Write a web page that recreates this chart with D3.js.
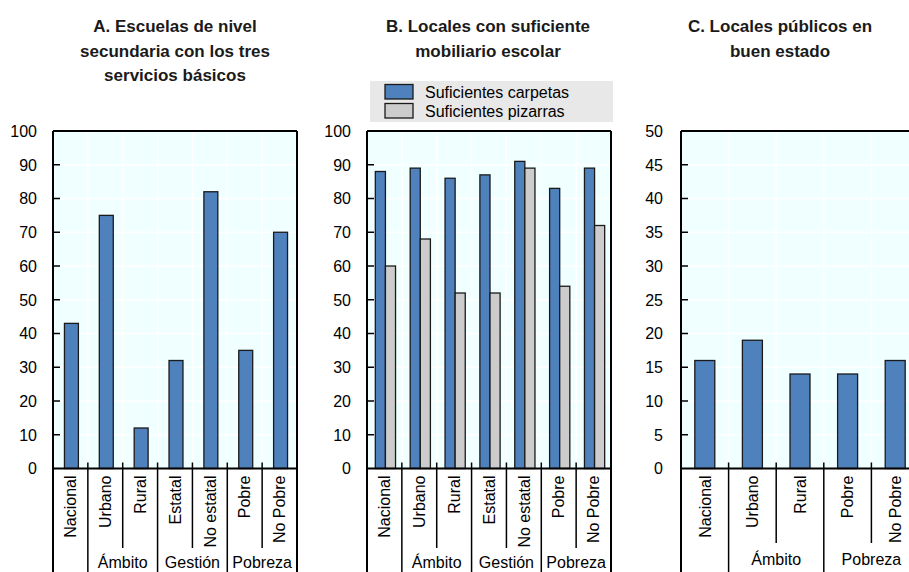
<!DOCTYPE html>
<html><head><meta charset="utf-8">
<script src="https://cdn.jsdelivr.net/npm/d3@7"></script>
<style>
body{margin:0;background:#fff;}
svg{display:block;font-family:"Liberation Sans",Arial,sans-serif;}
</style></head>
<body>
<svg id="c" width="909" height="572"></svg>
<script>
// ---- data ----
const catsAB = ["Nacional","Urbano","Rural","Estatal","No estatal","Pobre","No Pobre"];
const valsA = [43,75,12,32,82,35,70];
const carpetas = [88,89,86,87,91,83,89];
const pizarras = [60,68,52,52,89,54,72];
const catsC = ["Nacional","Urbano","Rural","Pobre","No Pobre"];
const valsC = [16,19,14,14,16];
const groupsAB = [["Ámbito",1,2],["Gestión",3,4],["Pobreza",5,6]];
const groupsC = [["Ámbito",1,2],["Pobreza",3,4]];
const ticksA = [0,10,20,30,40,50,60,70,80,90,100];
const ticksC = [0,5,10,15,20,25,30,35,40,45,50];
const seriesNames = ["Suficientes carpetas","Suficientes pizarras"];
const colors = ["#4f81bd","#cccccc"];
const titles = [
  ["A. Escuelas de nivel","secundaria con los tres","servicios básicos"],
  ["B. Locales con suficiente","mobiliario escolar"],
  ["C. Locales públicos en","buen estado"]
];

const svg = d3.select("#c");
const yTop = 131, yZero = 468.5, yBottom = 572;

function panel(o){
  const g = svg.append("g");
  const x = d3.scaleBand().domain(o.cats).range([o.x0,o.x1]);
  const y = d3.scaleLinear().domain([0,o.max]).range([yZero,yTop]);
  g.append("rect").attr("x",o.x0).attr("y",yTop).attr("width",o.x1-o.x0).attr("height",yZero-yTop).attr("fill","#f0ffff");
  g.selectAll(".hg").data(o.ticks.slice(1,-1)).join("line")
    .attr("x1",o.x0).attr("x2",o.x1).attr("y1",d=>y(d)).attr("y2",d=>y(d))
    .attr("stroke","#fff").attr("stroke-width",1.5);
  g.selectAll(".vg").data(o.cats.slice(1)).join("line")
    .attr("x1",d=>x(d)).attr("x2",d=>x(d)).attr("y1",yTop).attr("y2",yZero)
    .attr("stroke","#fff").attr("stroke-width",1.5);
  o.series.forEach((vals,si)=>{
    const n = o.series.length;
    const total = x.bandwidth()*o.barFrac;
    const bw = total/n;
    g.selectAll(".b"+si).data(vals).join("rect")
      .attr("x",(d,i)=>x(o.cats[i])+(x.bandwidth()-total)/2+si*bw+o.shift)
      .attr("width",bw)
      .attr("y",d=>y(d)).attr("height",d=>yZero-y(d))
      .attr("fill",colors[si]).attr("stroke","#1a1a1a").attr("stroke-width",1.3);
  });
  g.selectAll(".yt").data(o.ticks.slice(1,-1)).join("line")
    .attr("x1",o.x0).attr("x2",o.x0+7).attr("y1",d=>y(d)).attr("y2",d=>y(d))
    .attr("stroke","#000").attr("stroke-width",1.5);
  g.selectAll(".yl").data(o.ticks).join("text")
    .attr("x",o.x0-o.labGap).attr("y",d=>y(d)).attr("dy","0.36em")
    .attr("text-anchor","end").attr("font-size",16).attr("fill","#000").text(d=>d);
  g.append("line").attr("x1",o.x0).attr("x2",o.x1).attr("y1",yTop).attr("y2",yTop).attr("stroke","#000").attr("stroke-width",2);
  g.append("line").attr("x1",o.x0).attr("x2",o.x0).attr("y1",yTop).attr("y2",yBottom).attr("stroke","#000").attr("stroke-width",2);
  g.append("line").attr("x1",o.x1).attr("x2",o.x1).attr("y1",yTop).attr("y2",yBottom).attr("stroke","#000").attr("stroke-width",2);
  g.append("line").attr("x1",o.x0).attr("x2",o.x1).attr("y1",yZero).attr("y2",yZero).attr("stroke","#000").attr("stroke-width",2);
  const starts = new Set(o.groups.map(d=>d[1]));
  o.cats.forEach((c,i)=>{
    if(i===0) return;
    const full = (i===1)||starts.has(i);
    g.append("line").attr("x1",x(c)).attr("x2",x(c)).attr("y1",yZero-6).attr("y2",full?yBottom:o.shortEnd)
      .attr("stroke","#000").attr("stroke-width",1.5);
  });
  g.selectAll(".cl").data(o.cats).join("text")
    .attr("transform",d=>`translate(${x(d)+x.bandwidth()/2},${yZero+7}) rotate(-90)`)
    .attr("dy","0.36em").attr("text-anchor","end").attr("font-size",16).attr("fill","#000").text(d=>d);
  o.groups.forEach(gr=>{
    const a = x(o.cats[gr[1]]), b = x(o.cats[gr[2]])+x.bandwidth();
    g.append("text").attr("x",(a+b)/2).attr("y",o.groupY).attr("text-anchor","middle")
      .attr("font-size",16).attr("fill","#000").text(gr[0]);
  });
  o.title.forEach((t,i)=>{
    g.append("text").attr("x",o.tx).attr("y",32+i*24.7).attr("text-anchor","middle")
      .attr("font-size",17).attr("font-weight","bold").attr("fill","#1a1a1a").text(t);
  });
  return {g,x,y};
}

panel({cats:catsAB,series:[valsA],max:100,ticks:ticksA,x0:53,x1:297,barFrac:0.4,shift:1,
  labGap:16,groups:groupsAB,shortEnd:548,groupY:568,title:titles[0],tx:175});
panel({cats:catsAB,series:[carpetas,pizarras],max:100,ticks:ticksA,x0:367,x1:611,barFrac:0.58,shift:1,
  labGap:16,groups:groupsAB,shortEnd:548,groupY:568,title:titles[1],tx:488});
panel({cats:catsC,series:[valsC],max:50,ticks:ticksC,x0:681,x1:919,barFrac:0.42,shift:0,
  labGap:18,groups:groupsC,shortEnd:543,groupY:565,title:titles[2],tx:780});

const lg = svg.append("g");
lg.append("rect").attr("x",370).attr("y",81).attr("width",243).attr("height",41).attr("fill","#e8e8e8");
seriesNames.forEach((s,i)=>{
  lg.append("rect").attr("x",385).attr("y",84.5+i*19).attr("width",28).attr("height",14.5)
    .attr("fill",colors[i]).attr("stroke","#1a1a1a").attr("stroke-width",1.3);
  lg.append("text").attr("x",425).attr("y",97.5+i*19).attr("font-size",16).attr("fill","#000").text(s);
});
</script>
</body></html>
